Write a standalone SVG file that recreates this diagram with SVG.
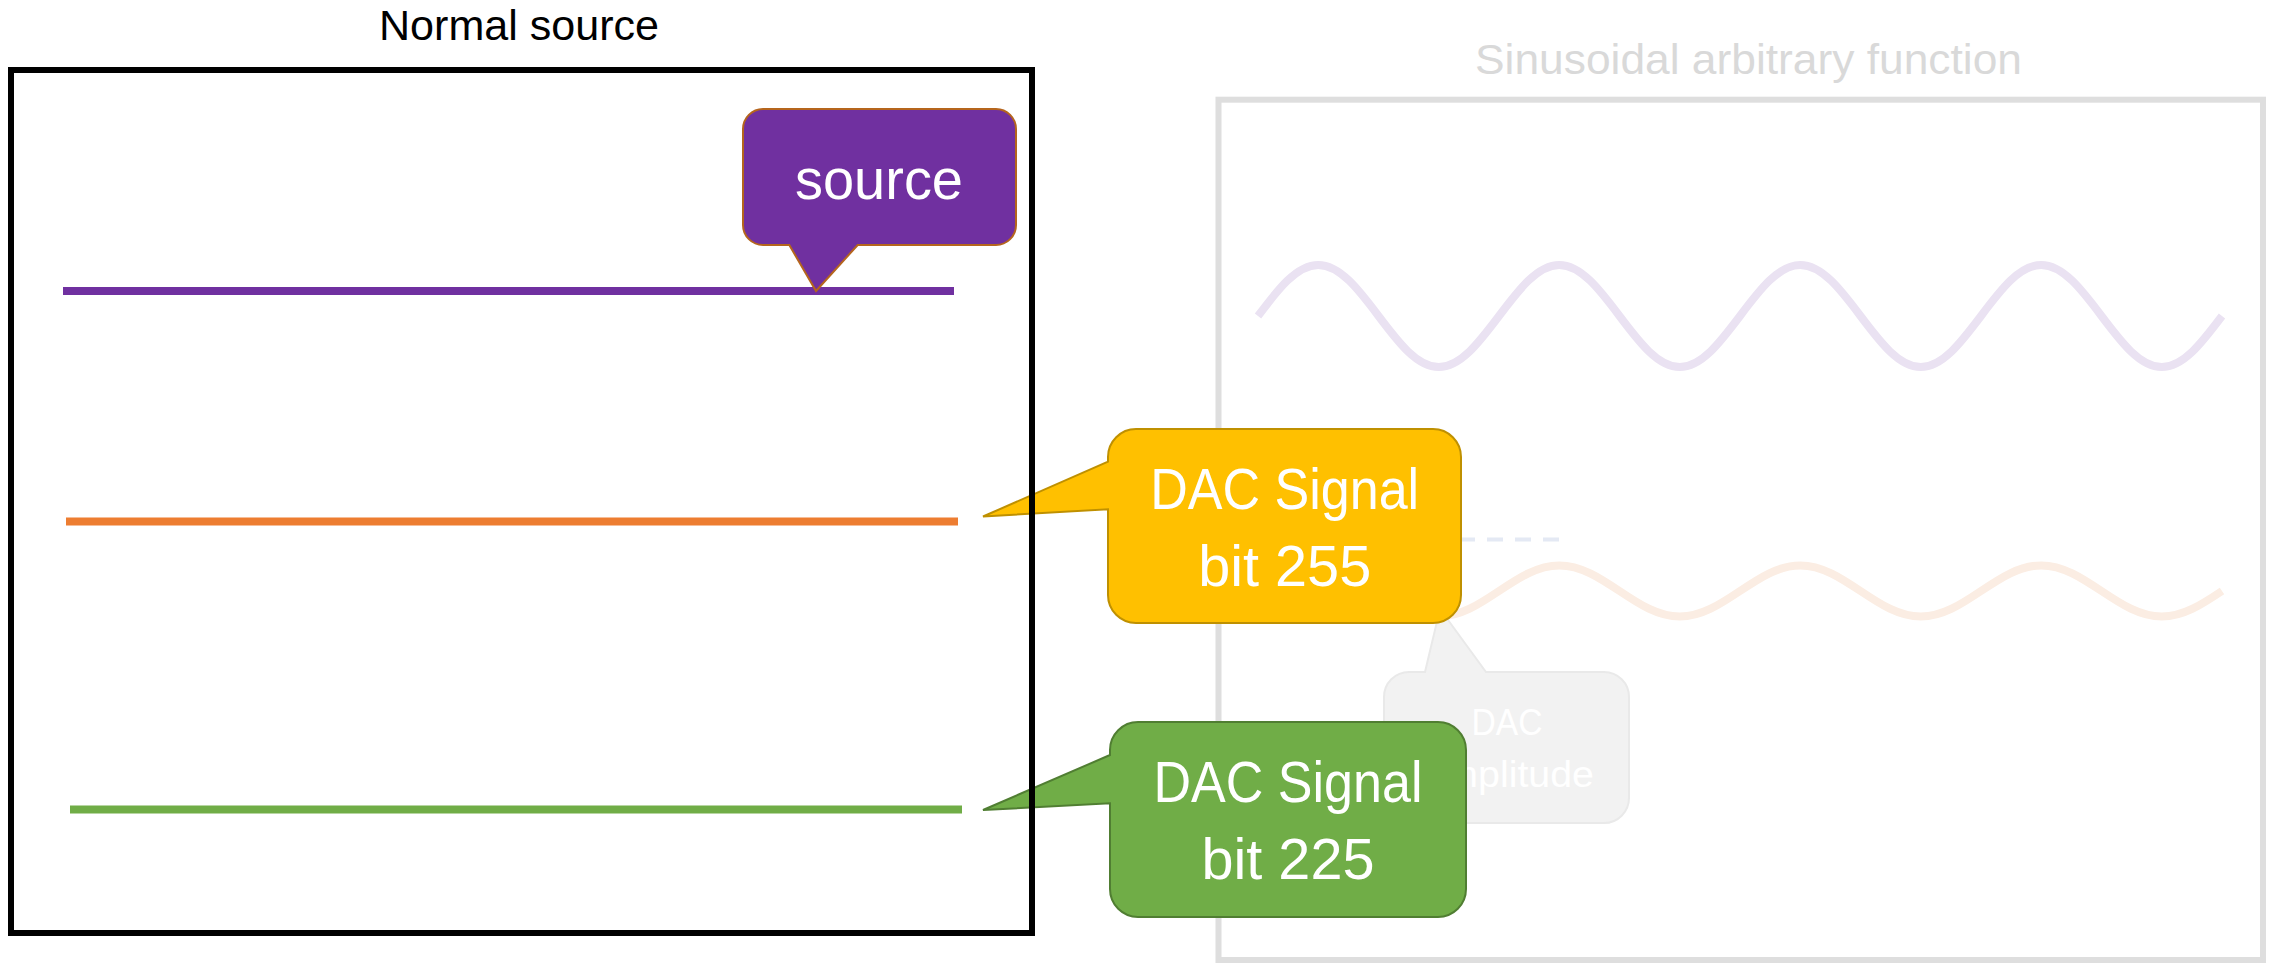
<svg xmlns="http://www.w3.org/2000/svg" width="2277" height="963" viewBox="0 0 2277 963">
  <style>
    text { font-family: "Liberation Sans", Arial, sans-serif; text-anchor: middle; }
    .title { font-size: 42px; fill: #000000; }
    .title-faded { font-size: 43px; fill: #D9D9D9; }
    .label { font-size: 57px; fill: #FFFFFF; }
    .label-small { font-size: 37px; fill: #FFFFFF; }
    .level { stroke-width: 8; fill: none; }
    .wave { stroke-width: 8; fill: none; }
  </style>

  <rect width="2277" height="963" fill="#FFFFFF"/>

  <!-- faded panel: sinusoidal arbitrary function -->
  <g id="panel-sine">
    <text class="title-faded" x="1748.5" y="74" textLength="547" lengthAdjust="spacingAndGlyphs">Sinusoidal arbitrary function</text>
    <rect x="1218.5" y="99.7" width="1044.5" height="860.3" fill="#FFFFFF" stroke="#DEDEDE" stroke-width="6"/>
    <path class="wave" stroke="#EAE2F2" d="M1258,316 c19.65,-26.1 38.45,-51 60.25,-51
      s40.6,24.9 60.25,51 s38.45,51 60.25,51 s40.6,-24.9 60.25,-51 s38.45,-51 60.25,-51
      s40.6,24.9 60.25,51 s38.45,51 60.25,51 s40.6,-24.9 60.25,-51 s38.45,-51 60.25,-51
      s40.6,24.9 60.25,51 s38.45,51 60.25,51 s40.6,-24.9 60.25,-51 s38.45,-51 60.25,-51
      s40.6,24.9 60.25,51 s38.45,51 60.25,51 s40.6,-24.9 60.25,-51"/>
    <line x1="1431" y1="539.5" x2="1559" y2="539.5" stroke="#E4E9F4" stroke-width="4" stroke-dasharray="16 12"/>
    <path class="wave" stroke="#FBEDE3" d="M1258,591 c19.65,-13.1 38.45,-25.6 60.25,-25.6
      s40.6,12.5 60.25,25.6 s38.45,25.6 60.25,25.6 s40.6,-12.5 60.25,-25.6 s38.45,-25.6 60.25,-25.6
      s40.6,12.5 60.25,25.6 s38.45,25.6 60.25,25.6 s40.6,-12.5 60.25,-25.6 s38.45,-25.6 60.25,-25.6
      s40.6,12.5 60.25,25.6 s38.45,25.6 60.25,25.6 s40.6,-12.5 60.25,-25.6 s38.45,-25.6 60.25,-25.6
      s40.6,12.5 60.25,25.6 s38.45,25.6 60.25,25.6 s40.6,-12.5 60.25,-25.6"/>
  </g>

  <g id="callout-amplitude">
    <path d="M1409,672 H1425 L1440,609 L1486,672 H1604 A25,25 0 0 1 1629,697 V798 A25,25 0 0 1 1604,823 H1409 A25,25 0 0 1 1384,798 V697 A25,25 0 0 1 1409,672 Z" fill="#F2F2F2" stroke="#E9E9E9" stroke-width="2"/>
    <text class="label-small" x="1507" y="735" textLength="71" lengthAdjust="spacingAndGlyphs">DAC</text>
    <text class="label-small" x="1506.5" y="786.5" textLength="175" lengthAdjust="spacingAndGlyphs">Amplitude</text>
  </g>

  <!-- signal levels -->
  <g id="connectors">
    <line class="level" x1="63" y1="291" x2="954" y2="291" stroke="#7030A0"/>
    <line class="level" x1="66" y1="521.5" x2="958" y2="521.5" stroke="#ED7D31"/>
    <line class="level" x1="70" y1="809.5" x2="962" y2="809.5" stroke="#70AD47"/>
  </g>

  <g id="callout-source">
    <path d="M763,109 H996 A20,20 0 0 1 1016,129 V225 A20,20 0 0 1 996,245 H857.7 L816,291 L789.3,245 H763 A20,20 0 0 1 743,225 V129 A20,20 0 0 1 763,109 Z" fill="#7030A0" stroke="#B5651D" stroke-width="2"/>
    <text class="label" x="879" y="199" font-size="60" textLength="168" lengthAdjust="spacingAndGlyphs">source</text>
  </g>

  <g id="callout-bit255">
    <path d="M1136,429 H1433 A28,28 0 0 1 1461,457 V595 A28,28 0 0 1 1433,623 H1136 A28,28 0 0 1 1108,595 V509.3 L983,516.5 L1108,461.7 V457 A28,28 0 0 1 1136,429 Z" fill="#FFC000" stroke="#BF9000" stroke-width="2"/>
    <text class="label" x="1284.7" y="509.3" textLength="269" lengthAdjust="spacingAndGlyphs">DAC Signal</text>
    <text class="label" x="1284.7" y="585.7" textLength="173" lengthAdjust="spacingAndGlyphs">bit 255</text>
  </g>

  <g id="callout-bit225">
    <path d="M1138,722 H1438 A28,28 0 0 1 1466,750 V889 A28,28 0 0 1 1438,917 H1138 A28,28 0 0 1 1110,889 V803.3 L983,810 L1110,755 V750 A28,28 0 0 1 1138,722 Z" fill="#70AD47" stroke="#507E32" stroke-width="2"/>
    <text class="label" x="1288" y="802" textLength="269" lengthAdjust="spacingAndGlyphs">DAC Signal</text>
    <text class="label" x="1288" y="879" textLength="173" lengthAdjust="spacingAndGlyphs">bit 225</text>
  </g>

  <!-- panel: normal source -->
  <g id="panel-normal">
    <text class="title" x="519" y="40" textLength="280" lengthAdjust="spacingAndGlyphs">Normal source</text>
    <rect x="11" y="70" width="1021" height="863" fill="none" stroke="#000000" stroke-width="6"/>
  </g>
</svg>
